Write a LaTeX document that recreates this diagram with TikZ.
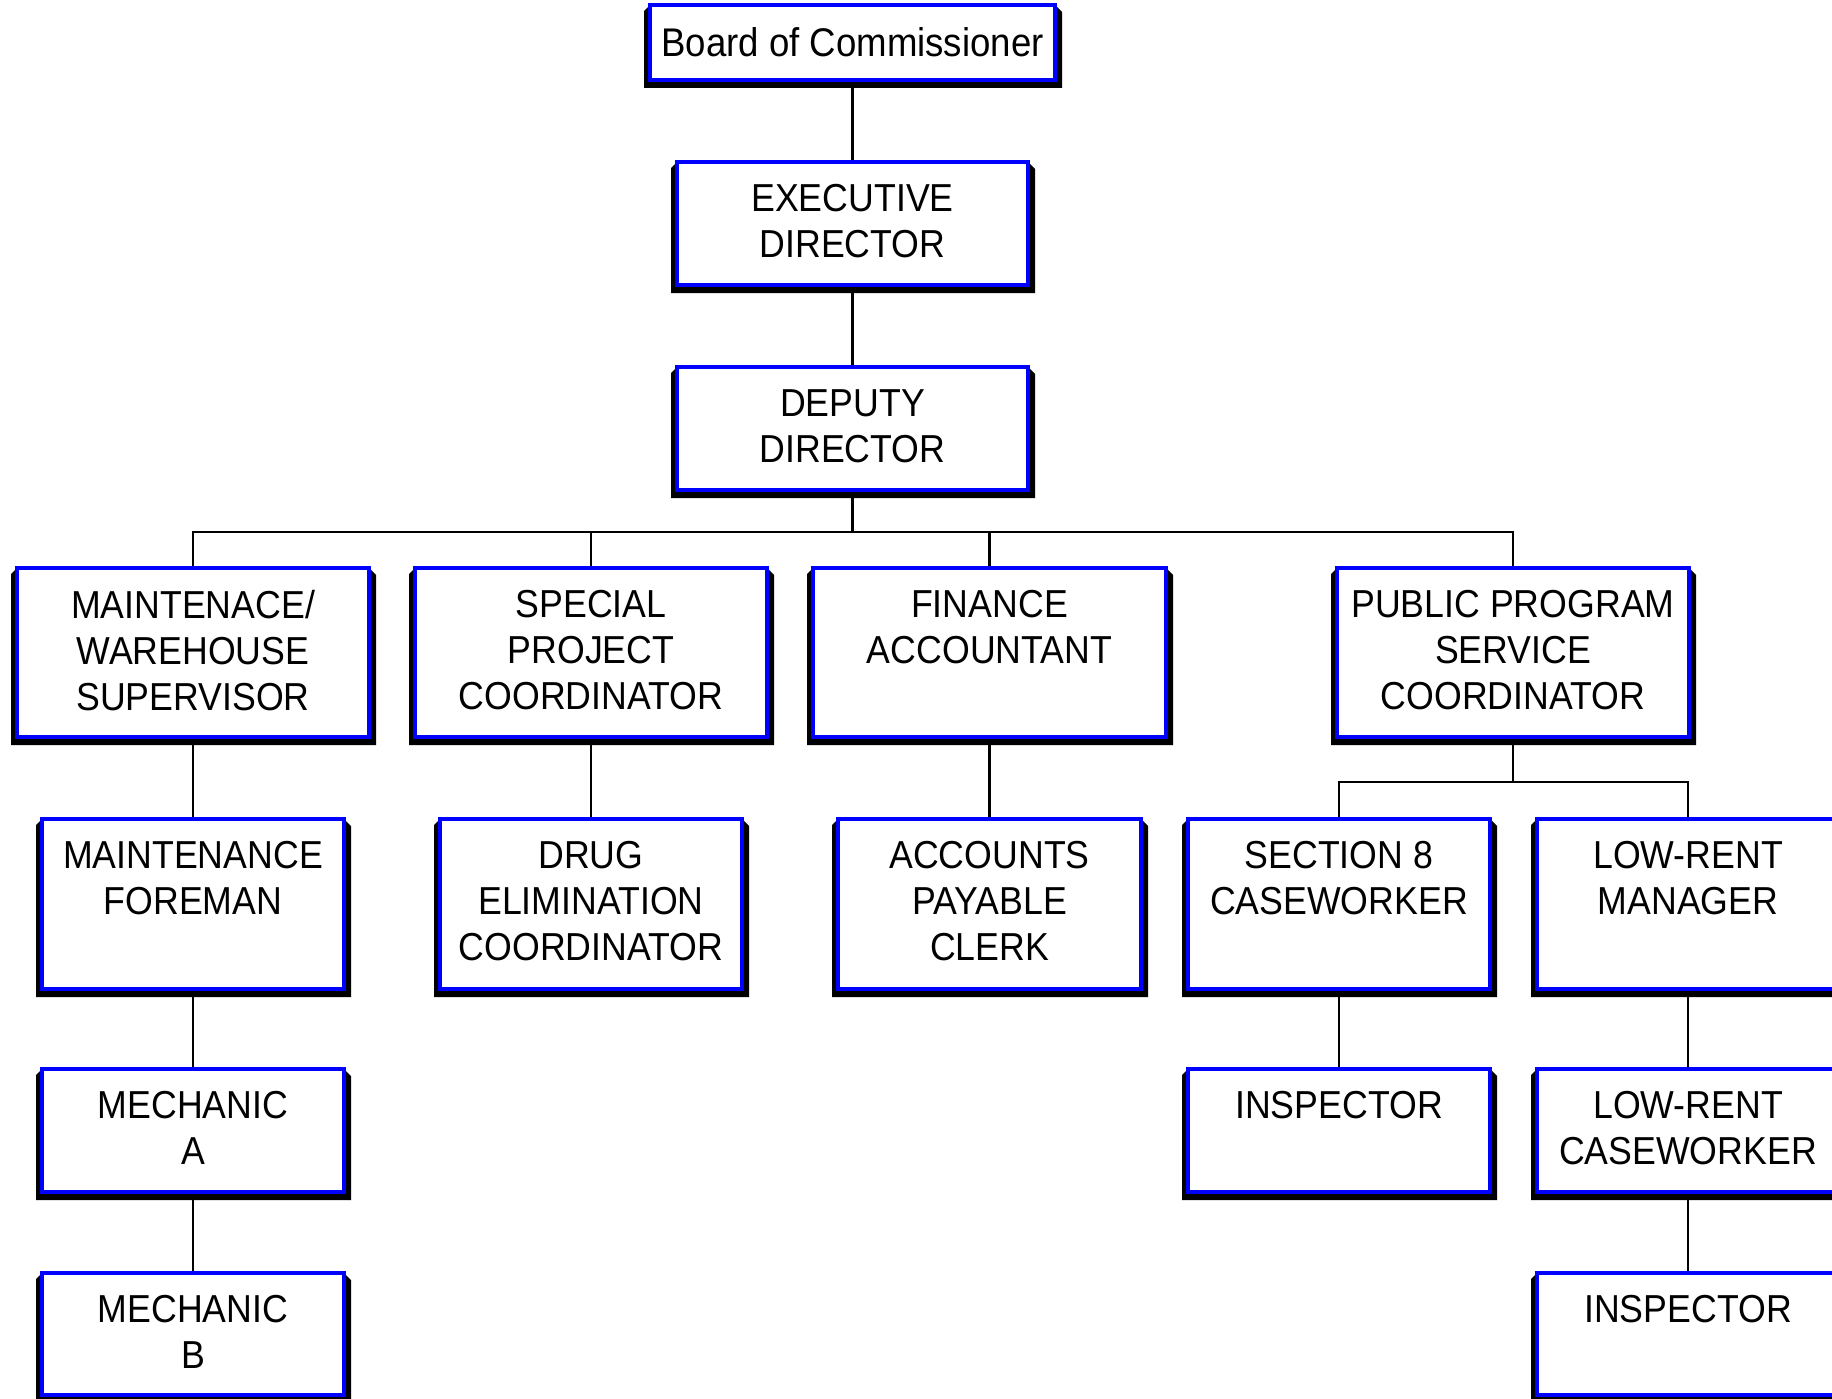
\documentclass[tikz,border=0pt]{standalone}
\usepackage{fontspec}
\setmainfont{Liberation Sans}[FakeStretch=0.915]
\pgfdeclarelayer{bg}
\pgfdeclarelayer{paper}
\pgfsetlayers{paper,bg,main}
\tikzset{
 orgnode/.style={draw=blue, line width=3.2pt, fill=white, inner sep=0pt, outer sep=0pt},
 orgshadow/.style={fill=black},
 orglabel/.style={font=\fontsize{39}{46}\selectfont, align=center, inner sep=0pt, anchor=north},
 conn/.style={line width=2.8pt, black}
}
\newcommand\orgbox[6]{%
 \fill[orgshadow] (#2-6,#3+6) -- (#2,#3) -- (#4,#3) -- (#4+7,#3+7) -- (#4+7,#5+8) -- (#2-6,#5+8) -- cycle;
 \node[orgnode, minimum width={#4-#2}, minimum height={#5-#3}] (#1) at ({(#2+#4)/2},{(#3+#5)/2}) {};
 \node[orglabel] (#1-text) at ([yshift=-22pt]#1.north) {#6};
}
\begin{document}
\begin{tikzpicture}[x=1pt,y=-1pt]
\path[use as bounding box] (0,0) rectangle (1832,1399);
\clip (0,0) rectangle (1832,1399);
\begin{pgfonlayer}{paper}
\fill[white] (0,0) rectangle (1832,1399);
\end{pgfonlayer}
% boxes
\orgbox{board}{650}{5}{1055}{80}{\fontsize{40}{46}\selectfont Board of Commissioner}
\orgbox{exec}{677}{162}{1028}{285}{EXECUTIVE\\DIRECTOR}
\orgbox{dep}{677}{367}{1028}{490}{DEPUTY\\DIRECTOR}
\orgbox{maint}{17}{568}{369}{737}{MAINTENACE/\\WAREHOUSE\\SUPERVISOR}
\orgbox{spec}{415}{568}{767}{737}{SPECIAL\\PROJECT\\COORDINATOR}
\orgbox{fin}{813}{568}{1166}{737}{FINANCE\\ACCOUNTANT}
\orgbox{pub}{1337}{568}{1689}{737}{PUBLIC PROGRAM\\SERVICE\\COORDINATOR}
\orgbox{fore}{42}{819}{344}{989}{MAINTENANCE\\FOREMAN}
\orgbox{drug}{440}{819}{742}{989}{DRUG\\ELIMINATION\\COORDINATOR}
\orgbox{acc}{838}{819}{1141}{989}{ACCOUNTS\\PAYABLE\\CLERK}
\orgbox{sec8}{1188}{819}{1490}{989}{SECTION 8\\CASEWORKER}
\orgbox{lrm}{1537}{819}{1839}{989}{LOW-RENT\\MANAGER}
\orgbox{mecha}{42}{1069}{344}{1192}{MECHANIC\\A}
\orgbox{inspa}{1188}{1069}{1490}{1192}{INSPECTOR}
\orgbox{lrc}{1537}{1069}{1839}{1192}{LOW-RENT\\CASEWORKER}
\orgbox{mechb}{42}{1273}{344}{1395}{MECHANIC\\B}
\orgbox{inspb}{1537}{1273}{1839}{1395}{INSPECTOR}
% connectors
\begin{pgfonlayer}{bg}
\coordinate (bus) at (852.5,532);
\coordinate (pbus) at (1513,782);
\draw[conn] (board.south) -- (exec.north);
\draw[conn] (exec.south) -- (dep.north);
\draw[conn] (dep.south) -- (bus);
\draw[conn] (maint.north) |- (bus) -| (pub.north);
\draw[conn] (spec.north) -- (spec.north |- bus);
\draw[conn] (fin.north) -- (fin.north |- bus);
\draw[conn] (maint.south) -- (fore.north);
\draw[conn] (fore.south) -- (mecha.north);
\draw[conn] (mecha.south) -- (mechb.north);
\draw[conn] (spec.south) -- (drug.north);
\draw[conn] (fin.south) -- (acc.north);
\draw[conn] (pub.south) -- (pbus);
\draw[conn] (sec8.north) |- (pbus) -| (lrm.north);
\draw[conn] (sec8.south) -- (inspa.north);
\draw[conn] (lrm.south) -- (lrc.north);
\draw[conn] (lrc.south) -- (inspb.north);
\end{pgfonlayer}
\end{tikzpicture}
\end{document}
